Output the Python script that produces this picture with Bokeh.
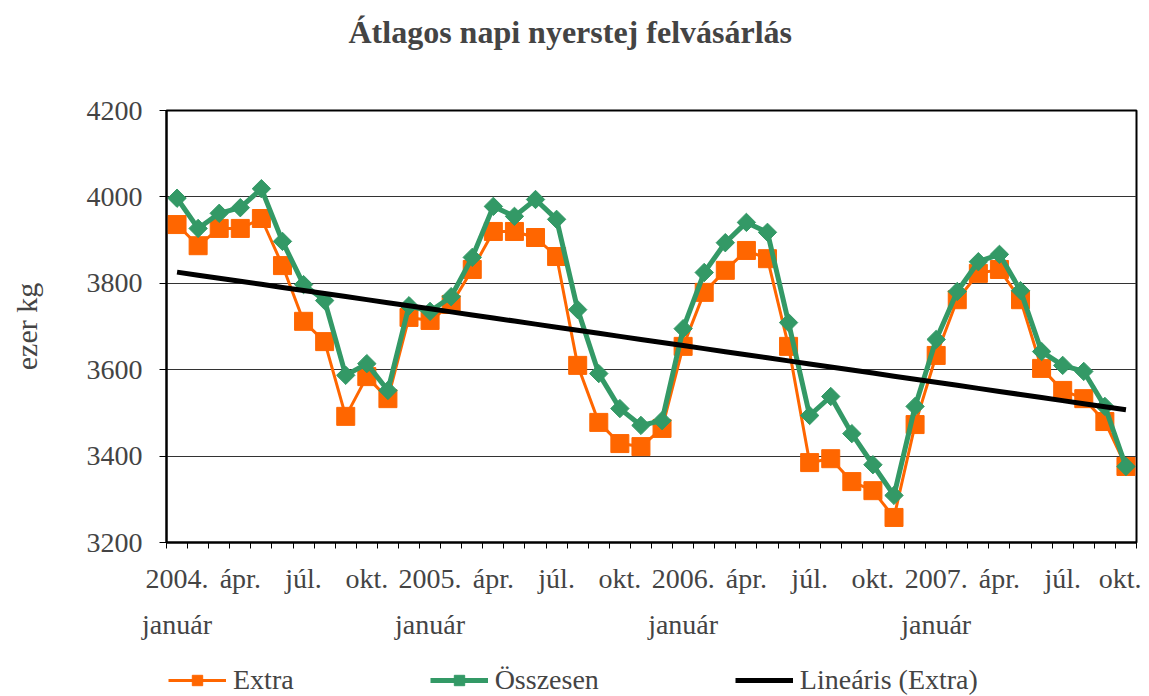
import numpy as np
from bokeh.plotting import figure
from bokeh.layouts import column
from bokeh.models import Range1d, FixedTicker, Legend, LegendItem, Title
from bokeh.embed import file_html
from bokeh.resources import INLINE

months = list(range(46))
tick_positions = [0, 3, 6, 9, 12, 15, 18, 21, 24, 27, 30, 33, 36, 39, 42, 45]
tick_labels = ["2004.\njanuár", "ápr.", "júl.", "okt.",
               "2005.\njanuár", "ápr.", "júl.", "okt.",
               "2006.\njanuár", "ápr.", "júl.", "okt.",
               "2007.\njanuár", "ápr.", "júl.", "okt."]

extra = [3936, 3887, 3927, 3927, 3950, 3841, 3712, 3665, 3492, 3584, 3533, 3721,
         3714, 3751, 3832, 3920, 3920, 3906, 3862, 3610, 3478, 3429, 3422, 3464,
         3654, 3779, 3830, 3876, 3857, 3654, 3385, 3394, 3341, 3320, 3258, 3473,
         3633, 3762, 3823, 3832, 3762, 3603, 3552, 3533, 3480, 3376]
osszesen = [3997, 3927, 3962, 3975, 4019, 3897, 3797, 3760, 3587, 3614, 3552, 3748,
            3735, 3769, 3860, 3978, 3955, 3994, 3948, 3739, 3591, 3510, 3471, 3482,
            3695, 3825, 3894, 3941, 3918, 3709, 3494, 3538, 3452, 3380, 3309, 3515,
            3670, 3781, 3850, 3867, 3783, 3642, 3610, 3596, 3515, 3376]
series_names = ["Extra", "Összesen", "Lineáris (Extra)"]

# linear trend of "Extra"
slope, intercept = np.polyfit(months, extra, 1)
trend = [intercept + slope * m for m in months]

FONT = "Liberation Serif"
ORANGE = "#FF6600"
GREEN = "#339966"

p = figure(width=1141, height=650, output_backend="svg", toolbar_location=None,
           x_range=Range1d(-0.5, 45.5), y_range=Range1d(3200, 4200),
           min_border_left=166, min_border_right=5, min_border_top=110,
           min_border_bottom=108)

# spacer (nearest to the frame), then the real title above it
p.add_layout(Title(text=" ", text_font_size="1px", standoff=48), "above")
p.add_layout(Title(text="Átlagos napi nyerstej felvásárlás", align="left",
                   offset=182, text_font=FONT, text_font_size="32px",
                   text_font_style="bold", standoff=20), "above")

p.outline_line_color = "black"
p.outline_line_width = 2
p.background_fill_color = "white"
p.border_fill_color = "white"

# y axis
p.yaxis.ticker = FixedTicker(ticks=[3200, 3400, 3600, 3800, 4000, 4200])
p.yaxis.axis_label = "ezer kg"
p.yaxis.axis_label_text_font = FONT
p.yaxis.axis_label_text_font_size = "30px"
p.yaxis.axis_label_text_font_style = "normal"
p.yaxis.axis_label_standoff = 41
p.yaxis.major_label_text_font = FONT
p.yaxis.major_label_text_font_size = "28px"
p.yaxis.major_label_standoff = 17
p.yaxis.major_tick_in = 0
p.yaxis.major_tick_out = 7
p.yaxis.minor_tick_line_color = None
p.yaxis.axis_line_width = 2
p.yaxis.axis_line_color = "black"
p.yaxis.major_tick_line_color = "black"

# x axis
minor = [m - 0.5 for m in months] + [45.5]
p.xaxis.ticker = FixedTicker(ticks=tick_positions, minor_ticks=minor)
p.xaxis.major_label_overrides = {t: l for t, l in zip(tick_positions, tick_labels)}
p.xaxis.major_label_text_font = FONT
p.xaxis.major_label_text_font_size = "28px"
p.xaxis.major_label_text_line_height = 1.5
p.xaxis.major_label_standoff = 14
p.xaxis.major_tick_line_color = None
p.xaxis.major_tick_out = 6
p.xaxis.minor_tick_in = 0
p.xaxis.minor_tick_out = 6
p.xaxis.minor_tick_line_color = "black"
p.xaxis.axis_line_width = 2
p.xaxis.axis_line_color = "black"

p.xgrid.grid_line_color = None
p.ygrid.grid_line_color = "#333333"
p.ygrid.grid_line_width = 1

# series
p.line(months, extra, line_color=ORANGE, line_width=3)
p.scatter(months, extra, marker="square", size=18, fill_color=ORANGE,
          line_color=ORANGE, line_width=1)
p.line(months, osszesen, line_color=GREEN, line_width=5)
p.scatter(months, osszesen, marker="square", angle=np.pi / 4, size=13,
          fill_color=GREEN, line_color=GREEN, line_width=1)
p.line(months, trend, line_color="black", line_width=5)

# legend strip below the chart (its glyph renderers sit outside its ranges)
lg = figure(width=1141, height=46, output_backend="svg", toolbar_location=None,
            x_range=Range1d(0, 1), y_range=Range1d(0, 1),
            x_axis_type=None, y_axis_type=None,
            min_border_left=0, min_border_right=0, min_border_top=0,
            min_border_bottom=0)
lg.outline_line_color = None
lg.grid.visible = False
off = [-10, -11]
g1 = lg.line(off, off, line_color=ORANGE, line_width=3)
m1 = lg.scatter(off, off, marker="square", size=20, fill_color=ORANGE,
                line_color=ORANGE)
g2 = lg.line(off, off, line_color=GREEN, line_width=5)
m2 = lg.scatter(off, off, marker="square", angle=np.pi / 4, size=15,
                fill_color=GREEN, line_color=GREEN)
g3 = lg.line(off, off, line_color="black", line_width=5)

legend = Legend(items=[
    LegendItem(label=series_names[0], renderers=[g1, m1]),
    LegendItem(label=series_names[1], renderers=[g2, m2]),
    LegendItem(label=series_names[2], renderers=[g3]),
], orientation="horizontal", location=(2, 0), glyph_width=58,
    glyph_height=26, label_standoff=7, spacing=136, padding=2, margin=0,
    border_line_color=None, background_fill_alpha=0,
    label_text_font=FONT, label_text_font_size="28px")
lg.add_layout(legend, "center")

open("out.html", "w").write(file_html(column(p, lg), INLINE))
